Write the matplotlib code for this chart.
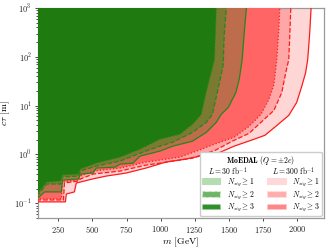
import matplotlib
matplotlib.use('Agg')
import matplotlib.pyplot as plt
from matplotlib.patches import Patch

plt.rcParams.update({
    'font.family': 'serif',
    'font.serif': ['cmr10', 'DejaVu Serif'],
    'mathtext.fontset': 'cm',
    'axes.formatter.use_mathtext': True,
    'axes.unicode_minus': False,
})

# ---- data: exclusion contours (m [GeV], c tau [m]) ----
m_L300_N1 = [100, 301, 308, 367, 381, 498, 600, 746, 892, 1037, 1183, 1286, 1431, 1540, 1686, 1766, 1846, 1941, 1999, 2036, 2065, 2080, 2094, 2105]
ct_L300_N1 = [0.107, 0.107, 0.155, 0.171, 0.260, 0.314, 0.361, 0.416, 0.526, 0.697, 0.802, 0.923, 1.09, 1.48, 2.05, 2.47, 3.77, 6.31, 11.6, 24.6, 47.4, 87.3, 282, 1000]

m_L300_N2 = [100, 287, 294, 396, 411, 505, 702, 892, 994, 1234, 1402, 1526, 1650, 1737, 1832, 1890, 1919, 1941, 1948, 1956]
ct_L300_N2 = [0.117, 0.117, 0.260, 0.286, 0.314, 0.397, 0.457, 0.605, 0.665, 0.841, 1.22, 1.87, 2.71, 4.55, 7.98, 18.6, 47.4, 87.3, 250, 1000]

m_L300_N3 = [100, 272, 279, 396, 411, 505, 702, 892, 994, 1140, 1263, 1395, 1540, 1650, 1737, 1795, 1832, 1853, 1868, 1875]
ct_L300_N3 = [0.123, 0.123, 0.273, 0.300, 0.361, 0.457, 0.526, 0.697, 0.766, 0.881, 1.17, 1.62, 2.25, 3.77, 6.62, 13.4, 27.0, 87.3, 355, 1000]

m_L30_N1 = [100, 148, 272, 279, 396, 411, 505, 527, 666, 702, 797, 848, 994, 1089, 1234, 1336, 1409, 1445, 1497, 1553, 1577, 1599, 1613, 1630]
ct_L30_N1 = [0.129, 0.171, 0.171, 0.300, 0.314, 0.397, 0.416, 0.526, 0.551, 0.634, 0.665, 0.923, 1.17, 1.48, 1.87, 2.84, 4.55, 6.62, 9.18, 18.6, 34.2, 87.3, 282, 1000]

m_L30_N2 = [100, 163, 265, 279, 396, 411, 527, 702, 848, 994, 1089, 1234, 1336, 1380, 1416, 1445, 1460, 1467, 1482]
ct_L30_N2 = [0.148, 0.248, 0.248, 0.345, 0.361, 0.457, 0.578, 0.731, 1.06, 1.48, 1.78, 2.84, 4.55, 6.62, 18.6, 43.2, 69, 282, 1000]

m_L30_N3 = [100, 163, 265, 279, 396, 411, 527, 702, 848, 994, 1140, 1234, 1298, 1334, 1358, 1395, 1402, 1409]
ct_L30_N3 = [0.163, 0.273, 0.286, 0.379, 0.397, 0.502, 0.665, 0.881, 1.28, 2.05, 2.59, 4.14, 6.62, 18.6, 34.2, 87.3, 282, 1000]

x_ticks = [250, 500, 750, 1000, 1250, 1500, 1750, 2000]
legend_title = r'$\mathbf{MoEDA}\!\mathbf{L}$ $(Q = \pm 2e)$'
header_L30 = r'$L = 30$ fb$^{-1}$'
header_L300 = r'$L = 300$ fb$^{-1}$'
n_labels = [r'$N_{sig} \geq 1$', r'$N_{sig} \geq 2$', r'$N_{sig} \geq 3$']

RED = '#ff1a1a'
GREEN = '#1f8a1a'

fig = plt.figure(figsize=(3.32, 2.49), dpi=100)
ax = fig.add_axes([0.1145, 0.1245, 0.8615, 0.8435])

curves = [
    (m_L300_N1, ct_L300_N1, '#ffd6d6', RED, '-'),
    (m_L300_N2, ct_L300_N2, '#ffa6a6', RED, '--'),
    (m_L300_N3, ct_L300_N3, '#ff6565', RED, ':'),
    (m_L30_N1, ct_L30_N1, '#bd6c4c', GREEN, '-'),
    (m_L30_N2, ct_L30_N2, '#7a7a32', GREEN, '--'),
    (m_L30_N3, ct_L30_N3, '#1f7a0f', GREEN, ':'),
]

for i, (mm, cc, fc, lc, ls) in enumerate(curves):
    xs = [40] + list(mm) + [mm[-1], 40]
    ys = [cc[0]] + list(cc) + [5000, 5000]
    ax.fill(xs, ys, color=fc, lw=0, zorder=1 + i)
for i, (mm, cc, fc, lc, ls) in enumerate(curves):
    ax.plot([40] + list(mm), [cc[0]] + list(cc), color=lc, ls=ls, lw=0.9, zorder=10)

ax.set_yscale('log')
ax.set_xlim(100, 2200)
ax.set_ylim(0.05, 1000)
ax.set_xticks(x_ticks)
ax.tick_params(labelsize=6, width=0.6, length=2.5, colors='0.15', pad=2)
ax.tick_params(which='minor', width=0.5, length=1.5)
for s in ax.spines.values():
    s.set_color('0.6')
    s.set_linewidth(0.9)
ax.set_xlabel(r'$m$ [GeV]', fontsize=7, labelpad=0)
ax.set_ylabel(r'$c\tau$ [m]', fontsize=7, labelpad=1.5)

blank = Patch(facecolor='none', edgecolor='none')
g_patches = [
    Patch(facecolor='#b6dcb2', edgecolor='#b6dcb2', lw=0.8, ls='-'),
    Patch(facecolor='#6db567', edgecolor='#d8ecd6', lw=0.8, ls='--'),
    Patch(facecolor='#2f8f2b', edgecolor='#9acd96', lw=0.8, ls=':'),
]
r_patches = [
    Patch(facecolor='#ffd9d9', edgecolor='#ffd9d9', lw=0.8, ls='-'),
    Patch(facecolor='#ffadad', edgecolor='#ffe0e0', lw=0.8, ls='--'),
    Patch(facecolor='#ff8686', edgecolor='#ffc8c8', lw=0.8, ls=':'),
]
handles = [blank] + g_patches + [blank] + r_patches
labels = [' '] + n_labels + [' '] + n_labels
leg = ax.legend(handles, labels, ncol=2, loc='lower right', fontsize=5.5,
                title=legend_title, title_fontsize=5.5, handlelength=2.4,
                handleheight=0.8, handletextpad=0.8, columnspacing=1.7,
                labelspacing=0.1, borderaxespad=0.3, borderpad=0.3,
                framealpha=1.0, edgecolor='0.8', fancybox=True)
leg.set_zorder(20)
leg._legend_box.sep = 0

fig.canvas.draw()
renderer = fig.canvas.get_renderer()
texts = leg.get_texts()
lh = leg.legend_handles
inv = fig.transFigure.inverted()
for col, header in ((0, header_L30), (1, header_L300)):
    pb = lh[col * 4 + 1].get_window_extent(renderer)
    tb = texts[col * 4 + 1].get_window_extent(renderer)
    hb = texts[col * 4].get_window_extent(renderer)
    xc = (pb.x0 + tb.x1) / 2
    yc = (hb.y0 + hb.y1) / 2
    fx, fy = inv.transform((xc, yc))
    fig.text(fx, fy, header, ha='center', va='center', fontsize=5.5, zorder=30)

fig.savefig('out.png', dpi=100)
